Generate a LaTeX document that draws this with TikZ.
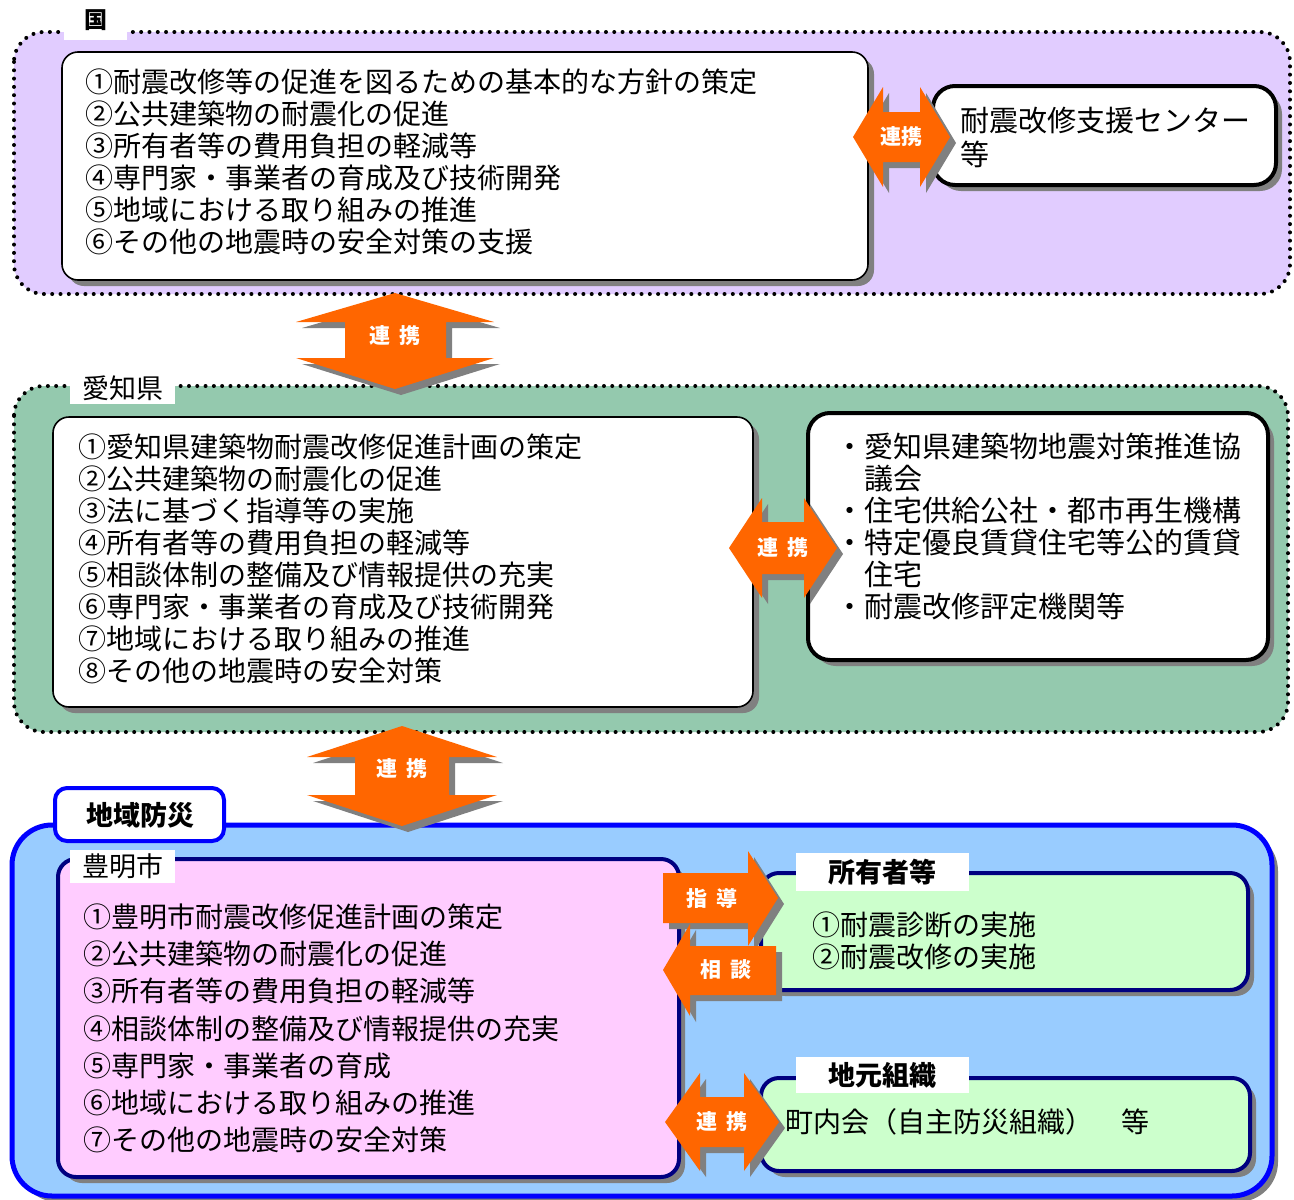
\documentclass[tikz,border=0pt]{standalone}
\usepackage{fontspec}
\setmainfont{Noto Sans CJK JP}
\usetikzlibrary{shadows}
\definecolor{kunipurple}{HTML}{E1CCFF}
\definecolor{kengreen}{HTML}{94C9AE}
\definecolor{chiikiblue}{HTML}{99CCFF}
\definecolor{shipink}{HTML}{FFCCFF}
\definecolor{mingreen}{HTML}{CCFFCC}
\definecolor{navyline}{HTML}{000080}
\definecolor{arroworange}{HTML}{FF6600}
\definecolor{shadowgray}{HTML}{808080}
\tikzstyle{dotbox} = [line width=4pt, dash pattern=on 0pt off 8.3pt, line cap=round, rounded corners=30pt]
\tikzstyle{grayshadow} = [drop shadow={shadow xshift=6pt, shadow yshift=-6pt, fill=shadowgray, opacity=1}]
\tikzstyle{thinbox} = [draw=black, fill=white, line width=1.6pt, rounded corners=16pt, grayshadow]
\tikzstyle{thickbox} = [draw=black, fill=white, line width=4pt, rounded corners=22pt, grayshadow]
\tikzstyle{navybox} = [draw=navyline, line width=4pt, rounded corners=18pt, grayshadow]
\tikzstyle{tagbox} = [fill=white, inner sep=0pt, font=\fontsize{27}{27}\selectfont]
\tikzstyle{txt} = [anchor=base west, inner sep=0pt, font=\fontsize{28}{32}\selectfont]
\tikzstyle{widetxt} = [anchor=base west, inner sep=0pt, font=\fontsize{29}{32}\selectfont]
\tikzstyle{arrowtxt} = [text=white, inner sep=0pt, font=\bfseries\fontsize{21}{21}\selectfont]

\begin{document}
\begin{tikzpicture}[x=1pt,y=-1pt]
\useasboundingbox (0,0) rectangle (1294,1200);

% 国
\draw[dotbox, fill=kunipurple] (14,32) rectangle (1290,294);
\draw[thinbox] (62,52) rectangle (868,280);
\draw[thickbox] (933,86) rectangle (1276,185);
\node[tagbox, minimum width=63pt, minimum height=40pt, font=\bfseries\fontsize{23}{23}\selectfont] (kuni) at (95.5,20) {国};
\foreach \t [count=\i] in {①耐震改修等の促進を図るための基本的な方針の策定,②公共建築物の耐震化の促進,③所有者等の費用負担の軽減等,④専門家・事業者の育成及び技術開発,⑤地域における取り組みの推進,⑥その他の地震時の安全対策の支援}
  \node[txt] (kuni-\i) at (85,{60+32*\i}) {\t};
\node[widetxt] (center-1) at (960,131) {耐震改修支援センター};
\node[widetxt] (center-2) at (960,165) {等};

% 愛知県
\draw[dotbox, fill=kengreen] (14,386) rectangle (1288,732);
\node[tagbox, minimum width=105pt, minimum height=31pt] (aichi) at (122.5,388) {愛知県};
\draw[thinbox] (53,417) rectangle (753,707);
\draw[thickbox] (808,413) rectangle (1268,660);
\foreach \t [count=\i] in {①愛知県建築物耐震改修促進計画の策定,②公共建築物の耐震化の促進,③法に基づく指導等の実施,④所有者等の費用負担の軽減等,⑤相談体制の整備及び情報提供の充実,⑥専門家・事業者の育成及び技術開発,⑦地域における取り組みの推進,⑧その他の地震時の安全対策}
  \node[txt] (ken-\i) at (78,{425+32*\i}) {\t};
\foreach \t [count=\i] in {・愛知県建築物地震対策推進協,　議会,・住宅供給公社・都市再生機構,・特定優良賃貸住宅等公的賃貸,　住宅,・耐震改修評定機関等}
  \node[widetxt] (kyo-\i) at (835,{425+32*\i}) {\t};

% 地域防災
\draw[draw=blue, fill=chiikiblue, line width=5pt, rounded corners=40pt, grayshadow] (12,825) rectangle (1272,1196);
\draw[draw=blue, fill=white, line width=4pt, rounded corners=12pt] (55,788) rectangle (224,841);
\node[font=\bfseries\fontsize{27}{27}\selectfont] (chiiki) at (140,815) {地域防災};

% 豊明市
\draw[navybox, fill=shipink] (58,859) rectangle (679,1177);
\node[tagbox, minimum width=105pt, minimum height=33pt] (toyoake) at (122.5,866) {豊明市};
\foreach \t [count=\i] in {①豊明市耐震改修促進計画の策定,②公共建築物の耐震化の促進,③所有者等の費用負担の軽減等,④相談体制の整備及び情報提供の充実,⑤専門家・事業者の育成,⑥地域における取り組みの推進,⑦その他の地震時の安全対策}
  \node[txt] (shi-\i) at (83,{889.67+37.33*\i}) {\t};

% 所有者等 / 地元組織
\draw[navybox, fill=mingreen] (761,873) rectangle (1248,990);
\node[tagbox, minimum width=173pt, minimum height=38pt, font=\bfseries\fontsize{27}{27}\selectfont] (shoyu) at (882,872) {所有者等};
\node[txt] (shoyu-1) at (812,935) {①耐震診断の実施};
\node[txt] (shoyu-2) at (812,967) {②耐震改修の実施};
\draw[navybox, fill=mingreen] (761,1078) rectangle (1250,1171);
\node[tagbox, minimum width=173pt, minimum height=36pt, font=\bfseries\fontsize{27}{27}\selectfont] (jimoto) at (882,1075) {地元組織};
\node[txt] (jimoto-1) at (785,1132) {町内会（自主防災組織）　等};

% 矢印
\foreach \s/\c in {6/shadowgray,0/arroworange}
  \fill[\c, shift={(\s,\s)}] (853,137) -- (883,87) -- (883,112) -- (920,112) -- (920,87) -- (950,137) -- (920,187) -- (920,162) -- (883,162) -- (883,187) -- cycle;
\node[arrowtxt] (renkei-1) at (901,137) {連携};
\foreach \s/\c in {6/shadowgray,0/arroworange}
  \fill[\c, shift={(\s,\s)}] (395,293) -- (494,322) -- (446,322) -- (446,358) -- (494,358) -- (395,389) -- (296,358) -- (345,358) -- (345,322) -- (296,322) -- cycle;
\node[arrowtxt] (renkei-2) at (395,336) {連\hspace{.4em}携};
\foreach \s/\c in {6/shadowgray,0/arroworange}
  \fill[\c, shift={(\s,\s)}] (729,548) -- (762,498) -- (762,522) -- (804,522) -- (804,498) -- (837,548) -- (804,598) -- (804,574) -- (762,574) -- (762,598) -- cycle;
\node[arrowtxt] (renkei-3) at (783,548) {連\hspace{.4em}携};
\foreach \s/\c in {6/shadowgray,0/arroworange}
  \fill[\c, shift={(\s,\s)}] (402,726) -- (497,757) -- (449,757) -- (449,795) -- (497,795) -- (402,826) -- (307,795) -- (355,795) -- (355,757) -- (307,757) -- cycle;
\node[arrowtxt] (renkei-4) at (402,769) {連\hspace{.4em}携};
\foreach \s/\c in {6/shadowgray,0/arroworange}
  \fill[\c, shift={(\s,\s)}] (663,873) -- (748,873) -- (748,851) -- (778,898) -- (748,946) -- (748,923) -- (663,923) -- cycle;
\node[arrowtxt] (shido) at (712,898) {指\hspace{.4em}導};
\foreach \s/\c in {6/shadowgray,0/arroworange}
  \fill[\c, shift={(\s,\s)}] (776,946) -- (690,946) -- (690,924) -- (663,970) -- (690,1016) -- (690,995) -- (776,995) -- cycle;
\node[arrowtxt] (sodan) at (726,970) {相\hspace{.4em}談};
\foreach \s/\c in {6/shadowgray,0/arroworange}
  \fill[\c, shift={(\s,\s)}] (665,1122) -- (700,1073) -- (700,1097) -- (744,1097) -- (744,1073) -- (779,1122) -- (744,1171) -- (744,1147) -- (700,1147) -- (700,1171) -- cycle;
\node[arrowtxt] (renkei-5) at (722,1122) {連\hspace{.4em}携};

\end{tikzpicture}
\end{document}
